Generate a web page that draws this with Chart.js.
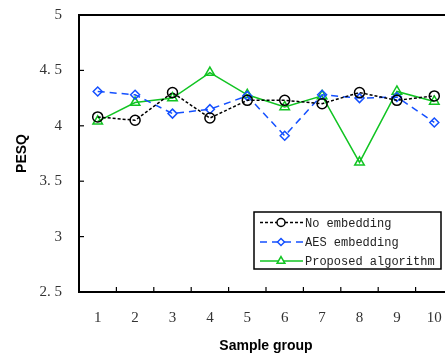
<!DOCTYPE html>
<html><head><meta charset="utf-8">
<script src="https://cdn.jsdelivr.net/npm/chart.js@4"></script>
<style>html,body{margin:0;padding:0;overflow:hidden;background:#fff}#wrap{width:460px;height:356px}</style>
</head><body><div id="wrap"><canvas id="c" width="460" height="356"></canvas></div>
<script>
const categories = ['1','2','3','4','5','6','7','8','9','10'];
const noEmbedding = [4.08, 4.05, 4.30, 4.07, 4.23, 4.23, 4.20, 4.30, 4.23, 4.27];
const aesEmbedding = [4.31, 4.28, 4.11, 4.15, 4.27, 3.91, 4.28, 4.25, 4.26, 4.03];
const proposedAlgorithm = [4.04, 4.21, 4.25, 4.48, 4.28, 4.17, 4.27, 3.67, 4.31, 4.22];
const yTickLabels = {'5':'5','4.5':'4. 5','4':'4','3.5':'3. 5','3':'3','2.5':'2. 5'};
const seriesNames = ['No embedding','AES embedding','Proposed algorithm'];

const frameAndLegend = {
  id: 'frameAndLegend',
  afterDraw(chart) {
    const ctx = chart.ctx, a = chart.chartArea;
    const xs = chart.scales.x, ys = chart.scales.y;
    ctx.save();
    ctx.strokeStyle = '#000'; ctx.lineWidth = 2;
    ctx.beginPath();
    ctx.moveTo(a.right, a.top); ctx.lineTo(a.left, a.top); ctx.lineTo(a.left, a.bottom); ctx.lineTo(a.right, a.bottom); ctx.lineTo(a.right, a.top);
    ctx.stroke();
    ctx.lineWidth = 1.2;
    ys.ticks.forEach(t => {
      const y = ys.getPixelForValue(t.value);
      ctx.beginPath(); ctx.moveTo(a.left, y); ctx.lineTo(a.left + 5, y); ctx.stroke();
    });
    for (let i = 0; i < categories.length - 1; i++) {
      const x = (xs.getPixelForValue(i) + xs.getPixelForValue(i + 1)) / 2;
      ctx.beginPath(); ctx.moveTo(x, a.bottom); ctx.lineTo(x, a.bottom - 5); ctx.stroke();
    }
    // legend
    const bx = 254, by = 212, bw = 187, bh = 57;
    ctx.fillStyle = '#fff'; ctx.fillRect(bx, by, bw, bh);
    ctx.strokeStyle = '#000'; ctx.lineWidth = 1.5; ctx.strokeRect(bx, by, bw, bh);
    const rows = [222.5, 242, 261];
    chart.data.datasets.forEach((ds, i) => {
      const y = rows[i];
      ctx.strokeStyle = ds.borderColor; ctx.lineWidth = ds.borderWidth;
      ctx.setLineDash(ds.borderDash || []);
      ctx.beginPath(); ctx.moveTo(260, y); ctx.lineTo(303, y); ctx.stroke();
      ctx.setLineDash([]);
      ctx.fillStyle = '#fff';
      Chart.helpers.drawPoint(ctx, {pointStyle: ds.pointStyle, radius: ds.pointRadius - 1, borderWidth: ds.pointBorderWidth, rotation: 0}, 281, y);
      ctx.fillStyle = '#222'; ctx.font = '12px "Liberation Mono"'; ctx.textBaseline = 'middle'; ctx.textAlign = 'left';
      ctx.fillText(ds.label, 305, y + 1);
    });
    ctx.restore();
  }
};

const mk = (label, data, color, dash, style, r) => ({
  label, data, borderColor: color, borderWidth: 1.5, borderDash: dash,
  pointStyle: style, pointRadius: r, pointBorderWidth: 1.5, pointBorderColor: color,
  pointBackgroundColor: 'rgba(0,0,0,0)', backgroundColor: 'rgba(0,0,0,0)', tension: 0, fill: false
});

new Chart(document.getElementById('c'), {
  type: 'line',
  data: {
    labels: categories,
    datasets: [
      mk(seriesNames[0], noEmbedding, '#000000', [3, 2], 'circle', 5),
      mk(seriesNames[1], aesEmbedding, '#1450ff', [7, 5], 'rectRot', 4.5),
      mk(seriesNames[2], proposedAlgorithm, '#11c422', [], 'triangle', 5.5)
    ]
  },
  options: {
    responsive: false, animation: false, devicePixelRatio: 1,
    layout: {padding: {top: 15, right: 5, left: 0, bottom: 0}},
    plugins: {legend: {display: false}, tooltip: {enabled: false}},
    scales: {
      x: {
        offset: true, grid: {display: false}, border: {display: false},
        ticks: {font: {family: '"Liberation Serif"', size: 15}, color: '#333', padding: 9, maxRotation: 0},
        title: {display: true, text: 'Sample group', font: {family: '"Liberation Sans"', size: 14, weight: 'bold'}, color: '#000', padding: {top: 4, bottom: 1}},
        afterFit(s) { s.height = 64; s.paddingLeft = 0; s.paddingRight = 0; }
      },
      y: {
        min: 2.5, max: 5, grid: {display: false}, border: {display: false},
        ticks: {stepSize: 0.5, font: {family: '"Liberation Serif"', size: 15}, color: '#333', padding: 9,
          callback: v => yTickLabels[String(v)] ?? String(v)},
        title: {display: true, text: 'PESQ', font: {family: '"Liberation Sans"', size: 14, weight: 'bold'}, color: '#000', padding: {top: 14, bottom: 0}},
        afterFit(s) { s.width = 79; s.paddingTop = 0; s.paddingBottom = 0; }
      }
    }
  },
  plugins: [frameAndLegend]
});
</script></body></html>
